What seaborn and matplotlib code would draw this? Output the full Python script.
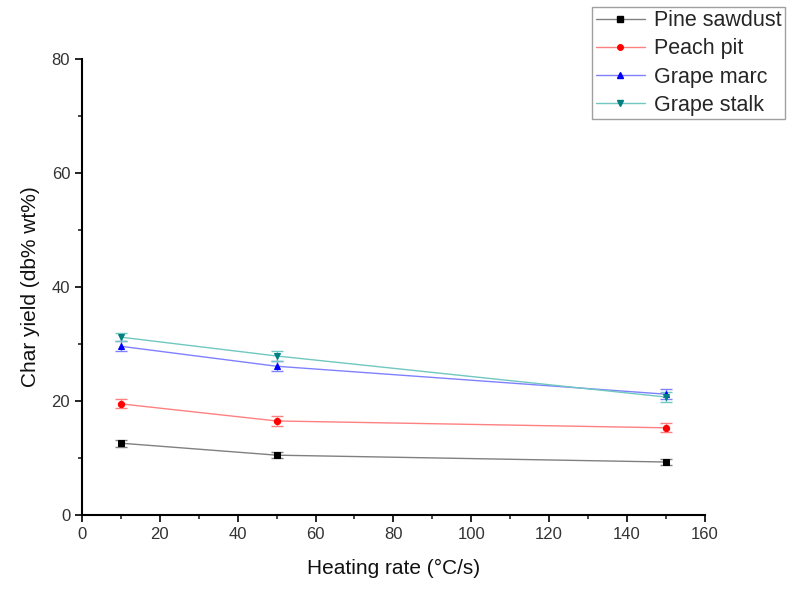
import matplotlib
matplotlib.use("Agg")
import matplotlib.pyplot as plt
import seaborn as sns
import pandas as pd
from matplotlib.ticker import MultipleLocator
from matplotlib.lines import Line2D

heating_rate = [10, 50, 150]
pine_sawdust = [12.6, 10.5, 9.3]
peach_pit = [19.5, 16.5, 15.3]
grape_marc = [29.6, 26.1, 21.2]
grape_stalk = [31.2, 27.9, 20.7]
pine_err = [0.6, 0.5, 0.5]
peach_err = [0.8, 0.8, 0.8]
marc_err = [0.9, 0.9, 0.9]
stalk_err = [0.7, 0.8, 0.9]

series = ["Pine sawdust", "Peach pit", "Grape marc", "Grape stalk"]
colors = ["#000000", "#ff0000", "#0000ff", "#008080"]
line_colors = ["#808080", "#ff8080", "#8080ff", "#70c8c0"]
markers = ["s", "o", "^", "v"]

rows = []
for name, vals, errs in zip(series, [pine_sawdust, peach_pit, grape_marc, grape_stalk],
                            [pine_err, peach_err, marc_err, stalk_err]):
    for x, v, e in zip(heating_rate, vals, errs):
        rows.append({"rate": x, "yield": v, "err": e, "series": name})
df = pd.DataFrame(rows)

sns.set_style("ticks")
plt.rcParams["font.family"] = ["Liberation Sans", "DejaVu Sans"]

fig = plt.figure(figsize=(7.91, 5.89), dpi=100)
ax = fig.add_axes([0.1037, 0.1256, 0.7873, 0.7742])

for name, c, lc, m in zip(series, colors, line_colors, markers):
    d = df[df["series"] == name]
    ax.errorbar(d["rate"], d["yield"], yerr=d["err"], fmt="none", ecolor=lc,
                elinewidth=1, capsize=4, capthick=1, zorder=2)
sns.lineplot(data=df, x="rate", y="yield", hue="series", style="series",
             palette=dict(zip(series, line_colors)), markers=dict(zip(series, markers)),
             dashes=False, ax=ax, linewidth=1, markersize=4.5, legend=False, zorder=3)
for line, c in zip(ax.lines[-4:], colors):
    line.set_markerfacecolor(c)
    line.set_markeredgecolor(c)

ax.set_xlim(0, 160)
ax.set_ylim(0, 80)
ax.xaxis.set_major_locator(MultipleLocator(20))
ax.xaxis.set_minor_locator(MultipleLocator(10))
ax.yaxis.set_major_locator(MultipleLocator(20))
ax.yaxis.set_minor_locator(MultipleLocator(10))
ax.tick_params(which="major", direction="out", length=5, width=1.2, labelsize=12,
               colors="#000000", labelcolor="#333333")
ax.tick_params(which="minor", direction="out", length=3, width=1.2)
for s in ["left", "bottom"]:
    ax.spines[s].set_linewidth(1.5)
    ax.spines[s].set_color("#000000")
ax.spines["top"].set_visible(False)
ax.spines["right"].set_visible(False)

ax.set_xlabel("Heating rate (°C/s)", fontsize=15, labelpad=12, color="#111111")
ax.set_ylabel("Char yield (db% wt%)", fontsize=15, labelpad=8, color="#111111")

handles = [Line2D([0], [0], color=lc, lw=1, marker=m, markersize=4,
                  markerfacecolor=c, markeredgecolor=c)
           for c, lc, m in zip(colors, line_colors, markers)]
leg = fig.legend(handles, series, loc="upper left", bbox_to_anchor=(0.749, 0.988),
                 fontsize=15.5, frameon=True, fancybox=False, edgecolor="#888888",
                 handlelength=2.3, borderpad=0.15, labelspacing=0.33, handletextpad=0.4,
                 borderaxespad=0)
leg.get_frame().set_linewidth(1)

fig.savefig("out.png", dpi=100)
